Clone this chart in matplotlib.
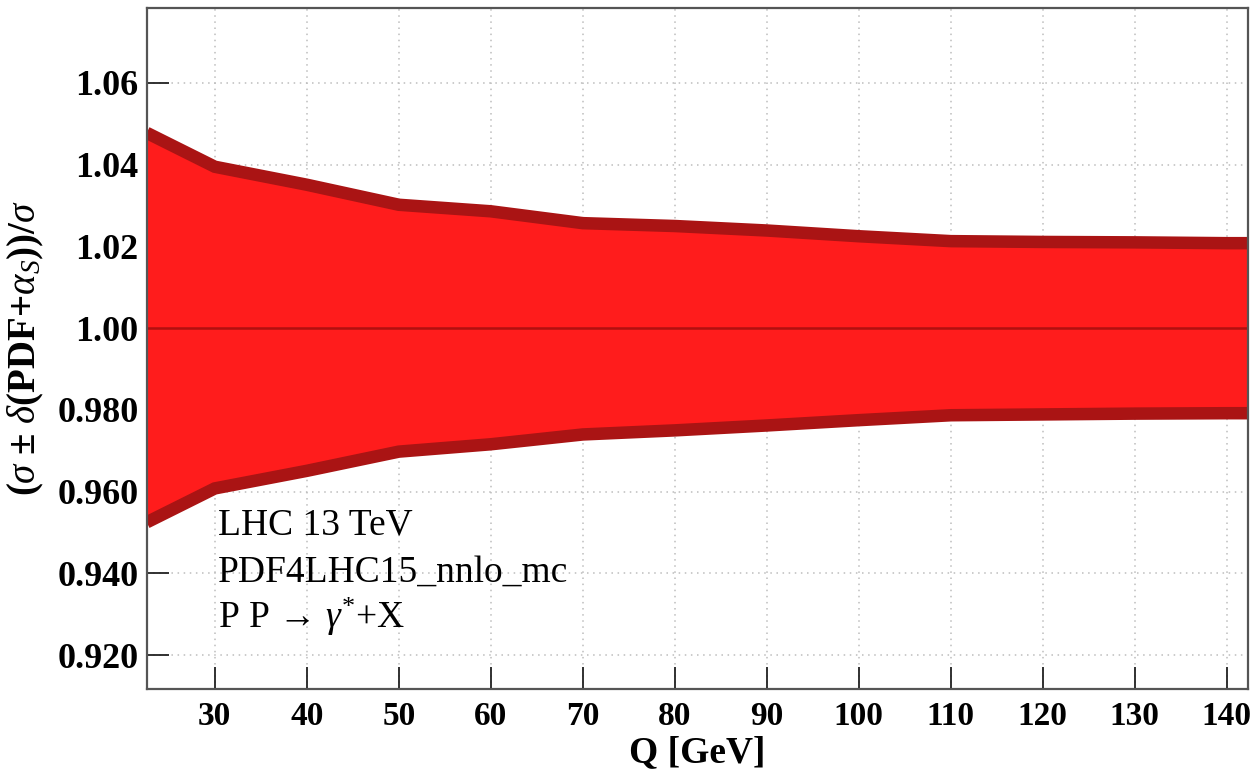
import numpy as np
import matplotlib.pyplot as plt

plt.rcParams['font.family'] = ['Liberation Serif', 'DejaVu Serif']
plt.rcParams['mathtext.fontset'] = 'custom'
plt.rcParams['mathtext.rm'] = 'Liberation Serif'
plt.rcParams['mathtext.it'] = 'Liberation Serif:italic'
plt.rcParams['mathtext.bf'] = 'Liberation Serif:bold'

# Q points and the PDF+alpha_s envelope (ratio to central value)
q = [22.6, 30, 40, 50, 60, 70, 80, 90, 100, 110, 120, 130, 140, 142.3]
upper = [1.0478, 1.0395, 1.0351, 1.0302, 1.0286, 1.0257, 1.0250, 1.0239,
         1.0225, 1.0213, 1.0211, 1.0210, 1.0208, 1.0208]
lower = [0.9525, 0.9608, 0.9651, 0.9698, 0.9716, 0.9740, 0.9750, 0.9762,
         0.9775, 0.9787, 0.9789, 0.9791, 0.9792, 0.9792]
central = [1.0] * len(q)

yticks = [0.92, 0.94, 0.96, 0.98, 1.00, 1.02, 1.04, 1.06]
ytick_labels = ['0.920', '0.940', '0.960', '0.980', '1.00', '1.02', '1.04', '1.06']
xticks = [30, 40, 50, 60, 70, 80, 90, 100, 110, 120, 130, 140]

info_lines = ['LHC 13 TeV', 'PDF4LHC15_nnlo_mc', r'P P → $\gamma^{*}$+X']

fill_red = '#ff1c1c'
edge_red = '#aa1414'

fig = plt.figure(figsize=(12.55, 7.74), dpi=100)
ax = fig.add_axes([0.1169, 0.1102, 0.8775, 0.8798])

ax.fill_between(q, lower, upper, color=fill_red, lw=0, zorder=2)
ax.plot(q, upper, color=edge_red, lw=9, solid_capstyle='butt', solid_joinstyle='miter', zorder=3)
ax.plot(q, lower, color=edge_red, lw=9, solid_capstyle='butt', solid_joinstyle='miter', zorder=3)
ax.plot(q, central, color='#b01010', lw=1.8, zorder=4)

ax.set_xlim(22.6, 142.3)
ax.set_ylim(0.9118, 1.0784)

ax.set_xticks(xticks)
ax.set_xticklabels([str(v) for v in xticks], fontsize=24, fontweight='bold')
ax.set_yticks(yticks)
ax.set_yticklabels(ytick_labels, fontsize=26, fontweight='bold')
ax.tick_params(axis='both', direction='in', length=16, width=1.3, color='#222222')
ax.tick_params(axis='x', pad=9)
ax.tick_params(axis='y', pad=6)

ax.grid(True, color='#bdbdbd', linestyle=(0, (1, 3)), lw=1.1, zorder=1)
ax.set_axisbelow(True)
for s in ax.spines.values():
    s.set_color('#555555')
    s.set_linewidth(1.6)
    s.set_zorder(5)

ax.set_xlabel('Q [GeV]', fontsize=27, fontweight='bold', labelpad=2)
ax.set_ylabel(r'($\sigma$ ± $\delta$(PDF+$\alpha_S$))/$\sigma$', fontsize=28, fontweight='bold', labelpad=8)

for i, line in enumerate(info_lines):
    ax.text(30.3, 0.9495 - i * 0.0114, line, fontsize=27, va='baseline', ha='left', zorder=6)

fig.savefig('out.png', dpi=100)
